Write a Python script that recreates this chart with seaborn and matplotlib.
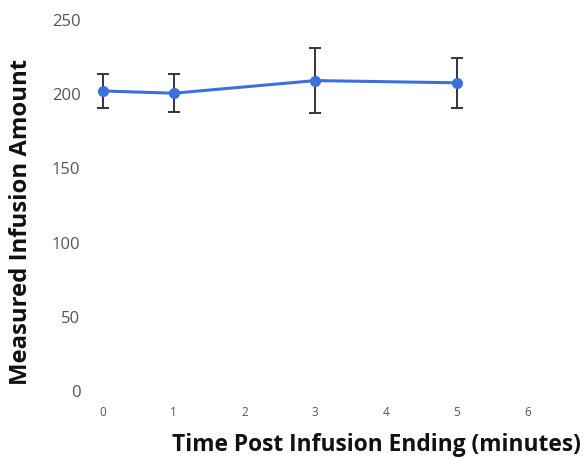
import matplotlib
matplotlib.use("Agg")
import matplotlib.pyplot as plt
import seaborn as sns
import pandas as pd

# Measured infusion amount after the infusion stops
minutes = [0, 1, 3, 5]
amount = [201.5, 200.0, 208.5, 207.0]
amount_sd = [11.5, 13.0, 22.0, 17.0]
x_ticks = [0, 1, 2, 3, 4, 5, 6]
y_ticks = [0, 50, 100, 150, 200, 250]

df = pd.DataFrame({"minutes": minutes, "amount": amount, "sd": amount_sd})

sns.set_theme(style="white")
plt.rcParams["font.family"] = ["Open Sans", "DejaVu Sans"]

fig = plt.figure(figsize=(5.84, 4.60), dpi=100)
ax = fig.add_axes([0.152, 0.15, 0.812, 0.8065])

line_color = "#3c6fdc"
err_color = "#2f3542"

ax.errorbar(df["minutes"], df["amount"], yerr=df["sd"], fmt="none",
            ecolor=err_color, elinewidth=1.4, capsize=4, capthick=1.4, zorder=2)
sns.lineplot(data=df, x="minutes", y="amount", ax=ax, color=line_color,
             linewidth=2.2, marker="o", markersize=8, markeredgewidth=0,
             zorder=3)

ax.set_xlim(-0.2, 6.5)
ax.set_ylim(0, 250)
ax.set_xticks(x_ticks)
ax.set_yticks(y_ticks)
ax.tick_params(axis="x", labelsize=8.5, labelcolor="#555555", length=0, pad=11)
ax.tick_params(axis="y", labelsize=12, labelcolor="#555555", length=0, pad=6)
for s in ax.spines.values():
    s.set_visible(False)
ax.grid(False)
ax.axhline(0, color="#ececec", linewidth=0.8, linestyle=(0, (3, 4)), zorder=1)

ax.set_xlabel("Time Post Infusion Ending (minutes)", fontsize=16.4,
              fontweight="bold", color="#111111")
ax.set_ylabel("Measured Infusion Amount", fontsize=17.2,
              fontweight="bold", color="#111111")
ax.xaxis.set_label_coords(0.606, -0.113)
ax.yaxis.set_label_coords(-0.118, 0.455)

fig.savefig("out.png", dpi=100, facecolor="white")
